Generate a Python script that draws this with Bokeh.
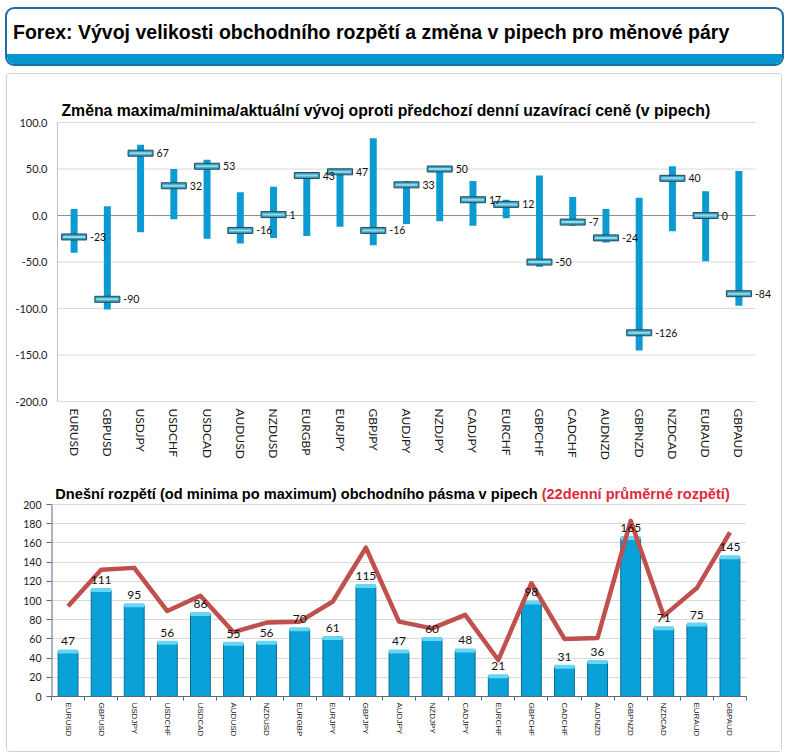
from bokeh.plotting import figure
from bokeh.models import (FactorRange, Range1d, Label, LabelSet, ColumnDataSource, Div,
                          LinearAxis, CategoricalAxis, FixedTicker, PrintfTickFormatter, Column)
from bokeh.core.properties import value
from bokeh.embed import file_html
from bokeh.resources import INLINE

# ---------------- data ----------------
pairs = ["EURUSD", "GBPUSD", "USDJPY", "USDCHF", "USDCAD", "AUDUSD", "NZDUSD", "EURGBP",
         "EURJPY", "GBPJPY", "AUDJPY", "NZDJPY", "CADJPY", "EURCHF", "GBPCHF", "CADCHF",
         "AUDNZD", "GBPNZD", "NZDCAD", "EURAUD", "GBPAUD"]
day_high = [7, 10, 76, 50, 60, 25, 31, 46, 48, 83, 37, 53, 37, 17, 43, 20, 7, 19, 53, 26, 48]
day_low = [-40, -101, -18, -4, -25, -30, -24, -22, -12, -32, -9, -6, -11, -3, -55, -11, -29, -145, -17, -49, -97]
current = [-23, -90, 67, 32, 53, -16, 1, 43, 47, -16, 33, 50, 17, 12, -50, -7, -24, -126, 40, 0, -84]

today_range = [47, 111, 95, 56, 86, 55, 56, 70, 61, 115, 47, 60, 48, 21, 98, 31, 36, 165, 71, 75, 145]
avg22_range = [94, 132, 134, 89, 105, 67, 77, 78, 99, 155, 78, 71, 85, 38, 118, 60, 61, 183, 84, 113, 171]

top_ticks = [-200, -150, -100, -50, 0, 50, 100]
bottom_ticks = [0, 20, 40, 60, 80, 100, 120, 140, 160, 180, 200]

main_title = "Forex: Vývoj velikosti obchodního rozpětí a změna v pipech pro měnové páry"
top_title = "Změna maxima/minima/aktuální vývoj oproti předchozí denní uzavírací ceně (v pipech)"
bottom_title_a = "Dnešní rozpětí (od minima po maximum) obchodního pásma v pipech"
bottom_title_b = "(22denní průměrné rozpětí)"

NUM_FONT = "Lato"
TXT_FONT = "Liberation Sans"
N = len(pairs)

# ---------------- header ----------------
header = Div(
    text=(
        '<div style="box-sizing:border-box;width:779px;height:59px;border:2px solid #1b6fa5;'
        'border-radius:9px;overflow:hidden;background:#ffffff;">'
        '<div style="height:45px;padding-left:6px;font-family:\'Liberation Sans\',Arial,sans-serif;'
        'font-size:19.5px;font-weight:bold;line-height:47px;color:#000;white-space:nowrap;">'
        + main_title +
        '</div><div style="height:10px;background:#0596cf;"></div></div>'
    ),
    width=779, height=59, margin=(7, 5, 0, 5),
)

# ---------------- top chart ----------------
src_top = ColumnDataSource(dict(pair=pairs, high=day_high, low=day_low, cur=current,
                                lbl=[str(v) for v in current]))

p1 = figure(x_range=FactorRange(factors=pairs, range_padding=0.511, range_padding_units="absolute"),
            y_range=Range1d(-202, 125.8),
            frame_width=732, frame_height=305, min_border_left=33, min_border_right=9,
            min_border_top=24, min_border_bottom=59, frame_align=False,
            output_backend="svg", toolbar_location=None,
            background_fill_color="white", border_fill_color="white", outline_line_color=None)

p1.xgrid.grid_line_color = None
p1.ygrid.grid_line_color = None
p1.yaxis.ticker = FixedTicker(ticks=top_ticks)
p1.yaxis.formatter = PrintfTickFormatter(format="%.1f")
p1.yaxis.major_tick_out = 0
p1.yaxis.major_tick_in = 0
p1.yaxis.minor_tick_out = 0
p1.yaxis.minor_tick_in = 0
p1.yaxis.axis_line_color = None
p1.yaxis.major_label_standoff = -7
p1.yaxis.major_label_text_font = NUM_FONT
p1.yaxis.major_label_text_font_size = "11px"
p1.yaxis.major_label_text_color = "#1a1a1a"

p1.xaxis.major_tick_out = 0
p1.xaxis.major_tick_in = 0
p1.xaxis.axis_line_color = None
p1.xaxis.major_label_orientation = "vertical"
p1.xaxis.major_label_standoff = 5
p1.xaxis.major_label_text_font = NUM_FONT
p1.xaxis.major_label_text_font_size = "12px"
p1.xaxis.major_label_text_color = "#1a1a1a"

# grid lines limited to the category area (synthetic coordinates 0..N)
grid_vals = [t for t in top_ticks if t != 0]
p1.segment(x0=[0] * len(grid_vals), x1=[N] * len(grid_vals), y0=grid_vals, y1=grid_vals,
           line_color="#d9d9d9", line_width=1)
p1.segment(x0=[0], x1=[N], y0=[0], y1=[0], line_color="#8a8a8a", line_width=1)
p1.segment(x0=[0], x1=[0], y0=[top_ticks[0]], y1=[top_ticks[-1]], line_color="#bfbfbf", line_width=1)

p1.vbar(x="pair", top="high", bottom="low", width=0.21, source=src_top,
        fill_color="#0b9ad2", line_color=None)
p1.rect(x="pair", y="cur", width=25, height=6, width_units="screen", height_units="screen",
        source=src_top, fill_color="#3a9fbf", line_color="#27495a", line_width=1)
p1.rect(x="pair", y="cur", width=22, height=2, width_units="screen", height_units="screen",
        source=src_top, fill_color="#8fdcef", line_color=None)

p1.add_layout(LabelSet(x="pair", y="cur", text="lbl", source=src_top, x_offset=16,
                       text_baseline="middle", text_align="left", text_font=value(NUM_FONT),
                       text_font_size=value("10.5px"), text_color="#111111"))

p1.add_layout(Label(x=0.12, y=113, text=top_title,
                    text_font=TXT_FONT, text_font_style="bold", text_font_size="15.8px",
                    text_baseline="middle", text_align="left", text_color="#000000"))

# ---------------- bottom chart ----------------
src_bot = ColumnDataSource(dict(pair=pairs, rng=today_range, avg=avg22_range,
                                lbl=[str(v) for v in today_range]))

p2 = figure(x_range=FactorRange(factors=pairs), y_range=Range1d(0, 221.9),
            frame_width=695, frame_height=213, min_border_left=44, min_border_right=35,
            min_border_top=21, min_border_bottom=55, x_axis_location=None, frame_align=False,
            output_backend="svg", toolbar_location=None,
            background_fill_color="white", border_fill_color="white", outline_line_color=None)

p2.xgrid.grid_line_color = None
p2.ygrid.grid_line_color = "#d9d9d9"
p2.ygrid.ticker = FixedTicker(ticks=bottom_ticks)
p2.yaxis.ticker = FixedTicker(ticks=bottom_ticks)
p2.yaxis.major_tick_out = 5
p2.yaxis.major_tick_in = 0
p2.yaxis.minor_tick_out = 0
p2.yaxis.minor_tick_in = 0
p2.yaxis.axis_line_color = None
p2.yaxis.major_tick_line_color = "#4f6b8a"
p2.yaxis.major_label_standoff = 5
p2.yaxis.major_label_text_font = NUM_FONT
p2.yaxis.major_label_text_font_size = "10.5px"
p2.yaxis.major_label_text_color = "#1a1a1a"

# separator ticks between the categories (at the boundaries of the factor slots)
tick_axis = LinearAxis(ticker=FixedTicker(ticks=[], minor_ticks=list(range(N + 1))),
                       major_tick_out=0, major_tick_in=0, minor_tick_out=4, minor_tick_in=0,
                       major_label_standoff=0,
                       axis_line_color="#4f6b8a", minor_tick_line_color="#4f6b8a")
cat_axis = CategoricalAxis(major_tick_out=0, major_tick_in=0, axis_line_color=None,
                           major_label_orientation="vertical", major_label_standoff=2,
                           major_label_text_font=TXT_FONT, major_label_text_font_size="8px",
                           major_label_text_color="#1a1a1a")
p2.add_layout(tick_axis, "below")
p2.add_layout(cat_axis, "below")

p2.segment(x0=[0], x1=[0], y0=[bottom_ticks[0]], y1=[bottom_ticks[-1]],
           line_color="#4f6b8a", line_width=2)

p2.vbar(x="pair", top="rng", width=0.6, source=src_bot,
        fill_color="#09a1d8", line_color="#0b6d93", line_width=1)
p2.rect(x="pair", y="rng", width=0.6, height=4, height_units="screen", source=src_bot,
        fill_color="#66d6f3", line_color=None)
p2.line(x="pair", y="avg", source=src_bot, line_color="#c0504d", line_width=4.5,
        line_join="round")

p2.add_layout(LabelSet(x="pair", y="rng", text="lbl", source=src_bot, y_offset=6,
                       text_baseline="bottom", text_align="center", text_font=value(NUM_FONT),
                       text_font_size=value("12px"), text_color="#111111"))

p2.add_layout(Label(x=0.115, y=210.5, text=bottom_title_a,
                    text_font=TXT_FONT, text_font_style="bold", text_font_size="14.6px",
                    text_baseline="middle", text_align="left", text_color="#000000"))
p2.add_layout(Label(x=14.81, y=210.5, text=bottom_title_b,
                    text_font=TXT_FONT, text_font_style="bold", text_font_size="14.6px",
                    text_baseline="middle", text_align="left", text_color="#dd2a3c"))

panel = Column(children=[p1, p2], spacing=0, margin=(7, 0, 0, 6),
               styles={"border": "1px solid #cfcfcf", "border-radius": "4px",
                       "background": "#ffffff"})

layout = Column(children=[header, panel], spacing=0)

open("out.html", "w").write(file_html(layout, INLINE))
